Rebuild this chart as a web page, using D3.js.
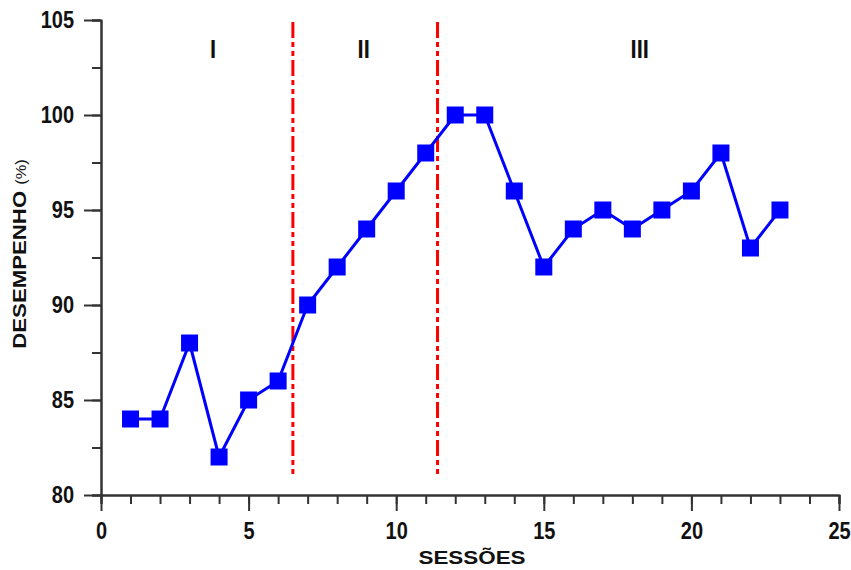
<!DOCTYPE html>
<html>
<head>
<meta charset="utf-8">
<script src="https://cdn.jsdelivr.net/npm/d3@7"></script>
<style>
  body { margin: 0; background: #fff; }
  .lbl { font-family: "Liberation Sans", Arial, sans-serif; font-weight: bold; fill: #111; }
  .tall { transform-box: fill-box; transform-origin: center; transform: scaleY(1.15); }
</style>
</head>
<body>
<div id="chart"></div>
<script>
const sessions = d3.range(1, 24);
const desempenho = [84, 84, 88, 82, 85, 86, 90, 92, 94, 96, 98, 100, 100, 96, 92, 94, 95, 94, 95, 96, 98, 93, 95];
const phaseBreaks = [6.5, 11.4];
const phaseLabels = [{x: 3.8, text: "I"}, {x: 8.9, text: "II"}, {x: 18.25, text: "III"}];
const xTicks = [0, 5, 10, 15, 20, 25];
const yTicks = [80, 85, 90, 95, 100, 105];

const W = 851, H = 570;
const svg = d3.select("#chart").append("svg").attr("width", W).attr("height", H);

const x = d3.scaleLinear().domain([0, 25]).range([101, 839]);
const y = d3.scaleLinear().domain([80, 105]).range([495, 20]);

// axes
function styleAxis(g) {
    g.select(".domain").attr("stroke", "#333").attr("stroke-width", 2);
    g.selectAll(".tick line").attr("stroke", "#333").attr("stroke-width", 2);
}

const xMinor = svg.append("g").attr("transform", "translate(0,495)")
    .call(d3.axisBottom(x).tickValues(d3.range(0, 26)).tickSize(9).tickFormat(""));
styleAxis(xMinor);
const xMajor = svg.append("g").attr("transform", "translate(0,495)")
    .call(d3.axisBottom(x).tickValues(xTicks).tickSize(16).tickSizeOuter(0).tickPadding(13));
styleAxis(xMajor);
xMajor.selectAll("text").attr("class", "lbl tall").attr("font-size", 20).attr("fill", "#111");

const yMinor = svg.append("g").attr("transform", "translate(101,0)")
    .call(d3.axisLeft(y).tickValues(d3.range(80, 105.1, 2.5)).tickSize(9).tickFormat(""));
styleAxis(yMinor);
const yMajor = svg.append("g").attr("transform", "translate(101,0)")
    .call(d3.axisLeft(y).tickValues(yTicks).tickSize(17).tickSizeOuter(0).tickPadding(10));
styleAxis(yMajor);
yMajor.selectAll("text").attr("class", "lbl tall").attr("font-size", 20).attr("fill", "#111");

// phase dividers
svg.selectAll(".phase")
    .data(phaseBreaks)
    .enter().append("line")
    .attr("x1", d => x(d)).attr("x2", d => x(d))
    .attr("y1", y(104.9)).attr("y2", y(81.1))
    .attr("stroke", "#ff0000")
    .attr("stroke-width", 3)
    .attr("stroke-dasharray", "16,4,5,4,5,4");

svg.selectAll(".phaseLbl")
    .data(phaseLabels)
    .enter().append("text")
    .attr("class", "lbl tall")
    .attr("x", d => x(d.x)).attr("y", y(103.5) + 8)
    .attr("text-anchor", "middle")
    .attr("font-size", 22)
    .text(d => d.text);

// series
const pts = sessions.map((s, i) => [s, desempenho[i]]);
svg.append("path")
    .datum(pts)
    .attr("fill", "none")
    .attr("stroke", "#0000ff")
    .attr("stroke-width", 3)
    .attr("d", d3.line().x(d => x(d[0])).y(d => y(d[1])));

const SQ = 17;
svg.selectAll(".pt")
    .data(pts)
    .enter().append("rect")
    .attr("x", d => x(d[0]) - SQ / 2)
    .attr("y", d => y(d[1]) - SQ / 2)
    .attr("width", SQ).attr("height", SQ)
    .attr("fill", "#0000ff");

// axis titles
svg.append("text")
    .attr("class", "lbl")
    .attr("transform", "translate(472,564) scale(1.18,1)")
    .attr("text-anchor", "middle")
    .attr("font-size", 19)
    .text("SESSÕES");

const yt = svg.append("text")
    .attr("class", "lbl")
    .attr("transform", "translate(26,254) rotate(-90) scale(1.17,1)")
    .attr("text-anchor", "middle")
    .attr("font-size", 19);
yt.append("tspan").text("DESEMPENHO ");
yt.append("tspan").attr("font-weight", "normal").attr("font-size", 14).text("(%)");
</script>
</body>
</html>
